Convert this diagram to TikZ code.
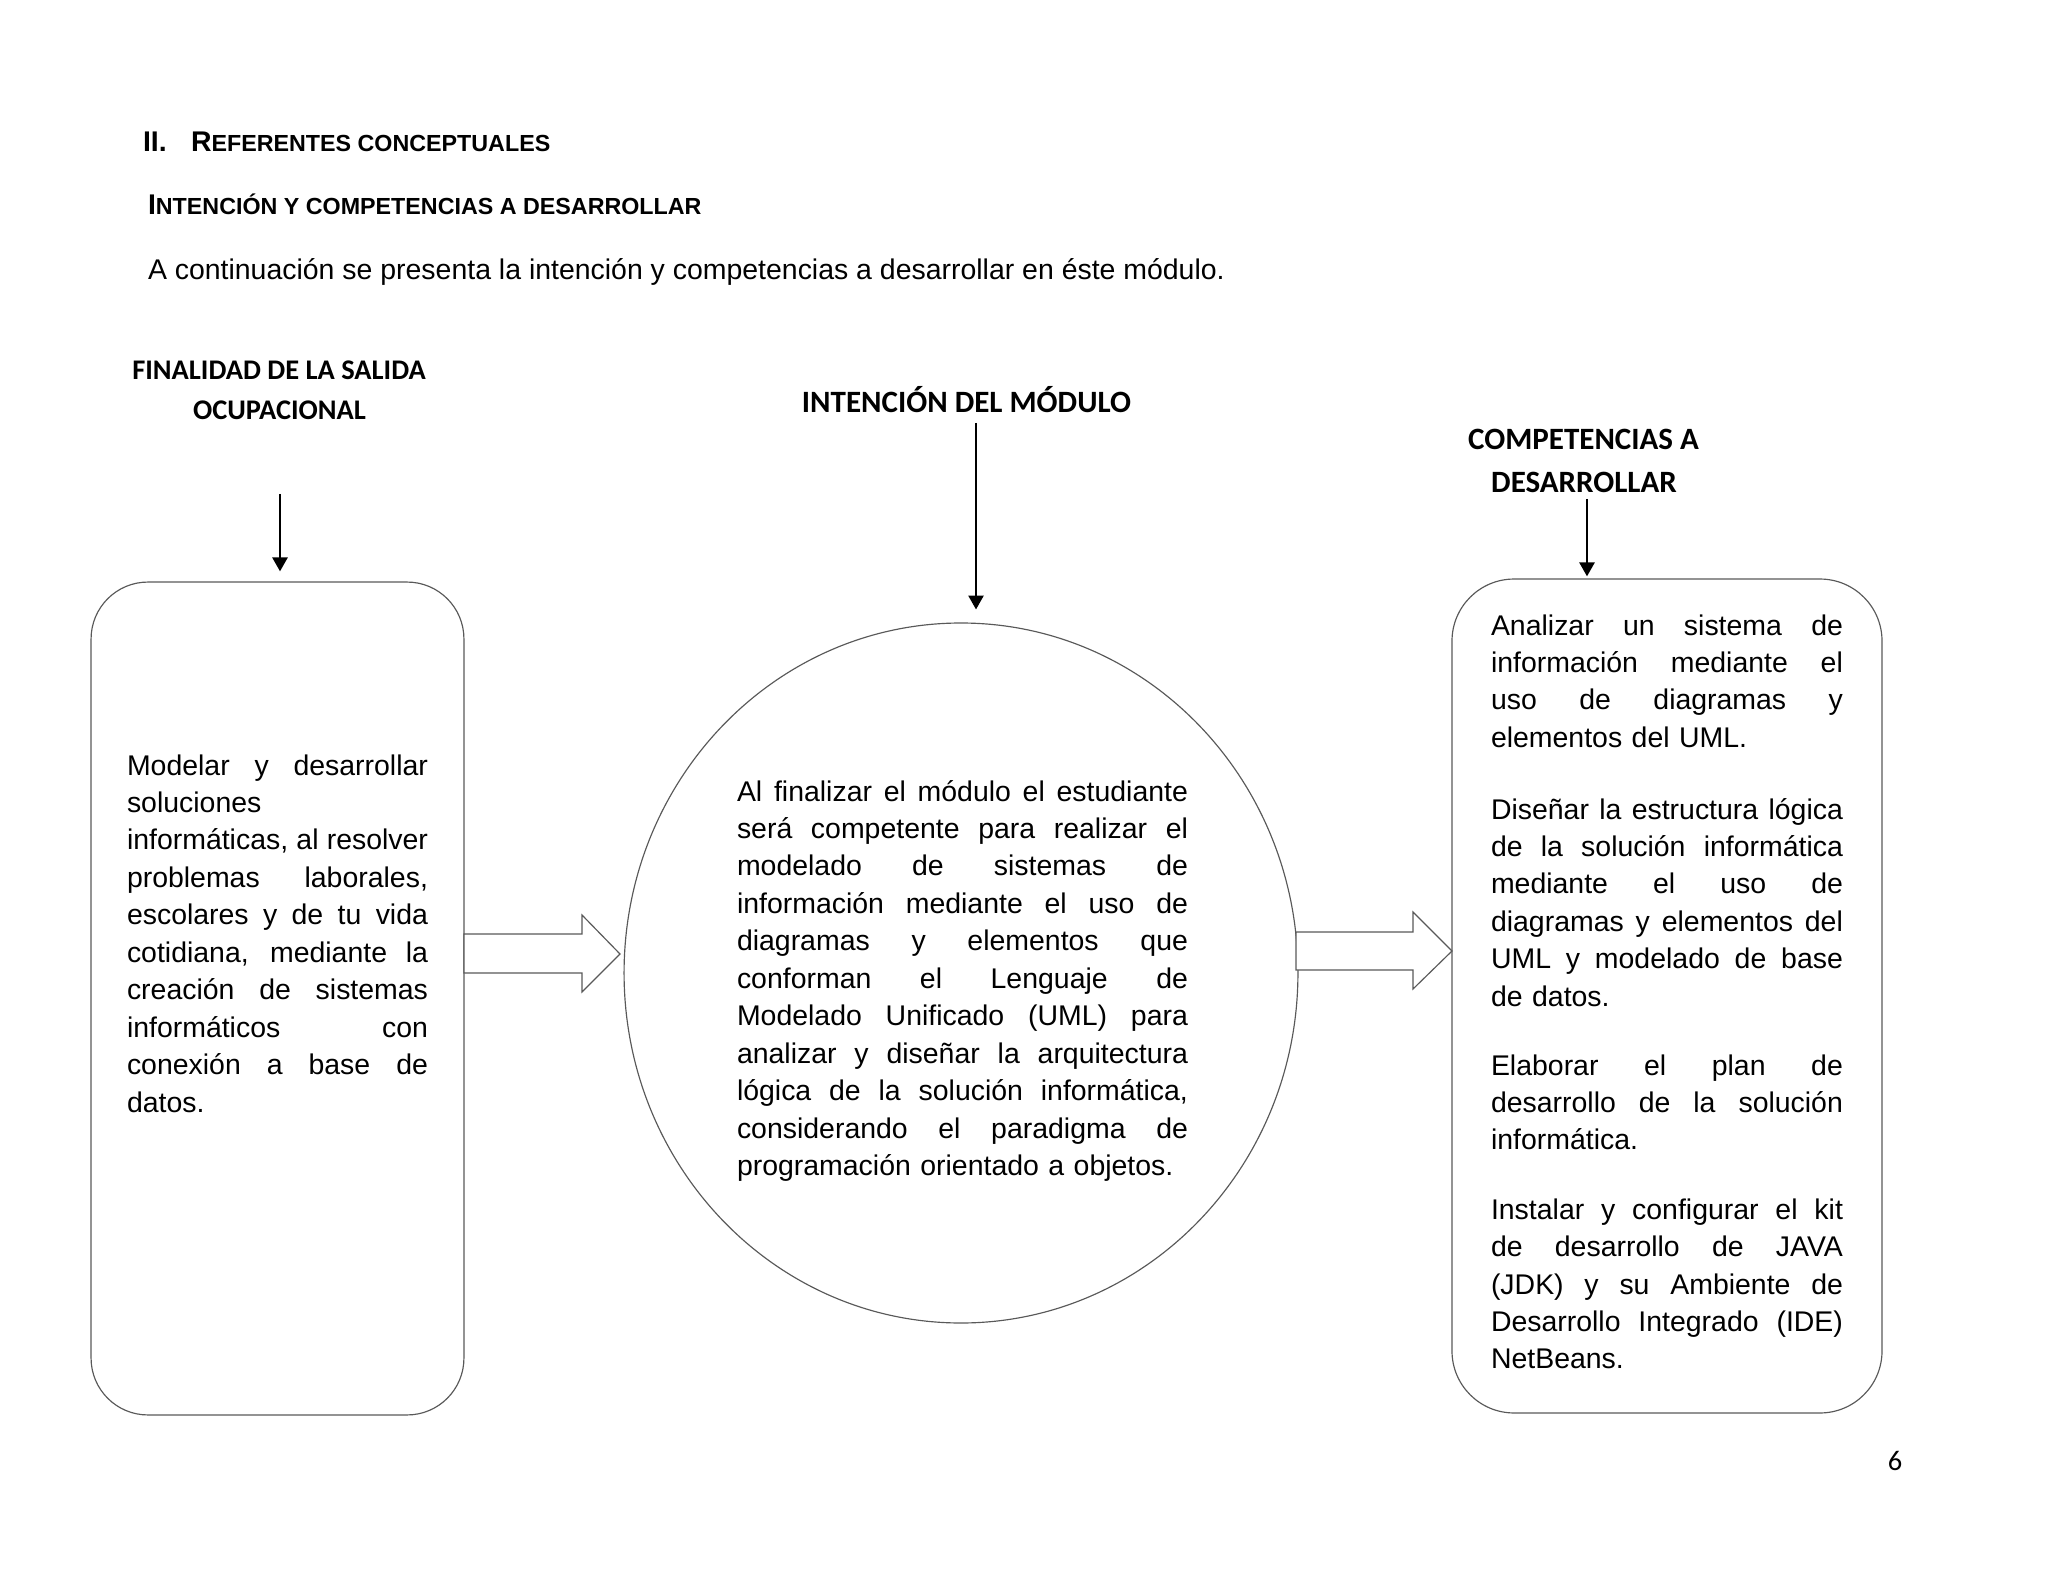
\documentclass[tikz,border=0pt]{standalone}
\usepackage{fontspec}
\setmainfont{Liberation Sans}
\newfontfamily\calibri{Carlito}
\usetikzlibrary{arrows.meta,shapes.geometric}
\newlength{\jw}
\newcommand{\jl}[1]{\leavevmode\hbox to\jw{\spaceskip=\fontdimen2\font plus 1fil\relax #1}}
\begin{document}
\begin{tikzpicture}[x=0.386719pt,y=-0.386719pt,
  body/.style={inner sep=0pt, outer sep=0pt, font=\fontsize{11pt}{14.5pt}\selectfont, anchor=base west},
  titlef/.style={body, font=\bfseries\fontsize{11pt}{13pt}\selectfont},
  head/.style={inner sep=0pt, outer sep=0pt, font=\calibri\bfseries\fontsize{11pt}{13pt}\selectfont, anchor=base},
  bighead/.style={head, font=\calibri\bfseries\fontsize{12pt}{14pt}\selectfont},
  shapeline/.style={draw=black!65, line width=0.45pt},
  downarrow/.style={-{Triangle[width=5.8pt,length=5.4pt]}, line width=1pt, black},
  blockarrow/.style={shapeline, fill=white, line join=miter},
  jtext/.style={body, text width=#1, execute at begin node={\setlength{\jw}{#1}}}]
\useasboundingbox (0,0) rectangle (2048,1582);

% shapes
\node[shapeline, rounded corners=22pt, minimum width=144.2pt, minimum height=322.1pt, inner sep=0pt] (lbox) at (277.5,998.5) {};
\node[shapeline, ellipse, minimum width=260.6pt, minimum height=270.7pt, inner sep=0pt] (circ) at (961,973) {};
\node[shapeline, rounded corners=24pt, minimum width=166.3pt, minimum height=322.5pt, inner sep=0pt] (rbox) at (1667,996) {};

% page titles
\node[titlef] (t1a) at (143,152) {II.};
\node[titlef] (t1b) at (191,152) {R{\fontsize{9pt}{11pt}\selectfont EFERENTES CONCEPTUALES}};
\node[titlef] (t2) at (148,215) {I{\fontsize{9pt}{11pt}\selectfont NTENCIÓN Y COMPETENCIAS A DESARROLLAR}};
\node[body] (t3) at (148,280) {A continuación se presenta la intención y competencias a desarrollar en éste módulo.};

% headings
\node[head] (h1a) at (279,380) {FINALIDAD DE LA SALIDA};
\node[head] (h1b) at (279.5,420) {OCUPACIONAL};
\node[bighead] (h2) at (966.5,413) {INTENCIÓN DEL MÓDULO};
\node[bighead] (h3a) at (1583.5,450) {COMPETENCIAS A};
\node[bighead] (h3b) at (1584,493) {DESARROLLAR};

% down arrows
\coordinate (a1s) at (280,494);
\draw[downarrow, shorten >=3.9pt] (a1s) -- (a1s |- lbox.north);
\coordinate (a2s) at (976,423);
\draw[downarrow, shorten >=5pt] (a2s) -- (a2s |- circ.north);
\coordinate (a3s) at (1587,499);
\draw[downarrow, shorten >=0.8pt] (a3s) -- (a3s |- rbox.north);

% block arrows
\draw[blockarrow] (464,934) -- (582,934) -- (582,915) -- (620,954) -- (582,992) -- (582,973) -- (464,973) -- cycle;
\draw[blockarrow] (1296,932) -- (1413,932) -- (1413,912) -- (1452,951) -- (1413,989) -- (1413,970) -- (1296,970) -- cycle;

% texts
\node[jtext=116.4pt] (ltext) at (127,775) {\jl{Modelar y desarrollar}\\
soluciones\\
\jl{informáticas, al resolver}\\
\jl{problemas laborales,}\\
\jl{escolares y de tu vida}\\
\jl{cotidiana, mediante la}\\
\jl{creación de sistemas}\\
\jl{informáticos con}\\
\jl{conexión a base de}\\
datos.};

\node[jtext=174.4pt] (ctext) at (737,801) {\jl{Al finalizar el módulo el estudiante}\\
\jl{será competente para realizar el}\\
\jl{modelado de sistemas de}\\
\jl{información mediante el uso de}\\
\jl{diagramas y elementos que}\\
\jl{conforman el Lenguaje de}\\
\jl{Modelado Unificado (UML) para}\\
\jl{analizar y diseñar la arquitectura}\\
\jl{lógica de la solución informática,}\\
\jl{considerando el paradigma de}\\
programación orientado a objetos.};

\node[jtext=136.1pt] (rp1) at (1491,635) {\jl{Analizar un sistema de}\\
\jl{información mediante el}\\
\jl{uso de diagramas y}\\
elementos del UML.};
\node[jtext=136.1pt] (rp2) at (1491,819) {\jl{Diseñar la estructura lógica}\\
\jl{de la solución informática}\\
\jl{mediante el uso de}\\
\jl{diagramas y elementos del}\\
\jl{UML y modelado de base}\\
de datos.};
\node[jtext=136.1pt] (rp3) at (1491,1075) {\jl{Elaborar el plan de}\\
\jl{desarrollo de la solución}\\
informática.};
\node[jtext=136.1pt] (rp4) at (1491,1219) {\jl{Instalar y configurar el kit}\\
\jl{de desarrollo de JAVA}\\
\jl{(JDK) y su Ambiente de}\\
\jl{Desarrollo Integrado (IDE)}\\
NetBeans.};

\node[head, font=\calibri\fontsize{11pt}{13pt}\selectfont] (pg) at (1895,1470) {6};
\end{tikzpicture}
\end{document}
